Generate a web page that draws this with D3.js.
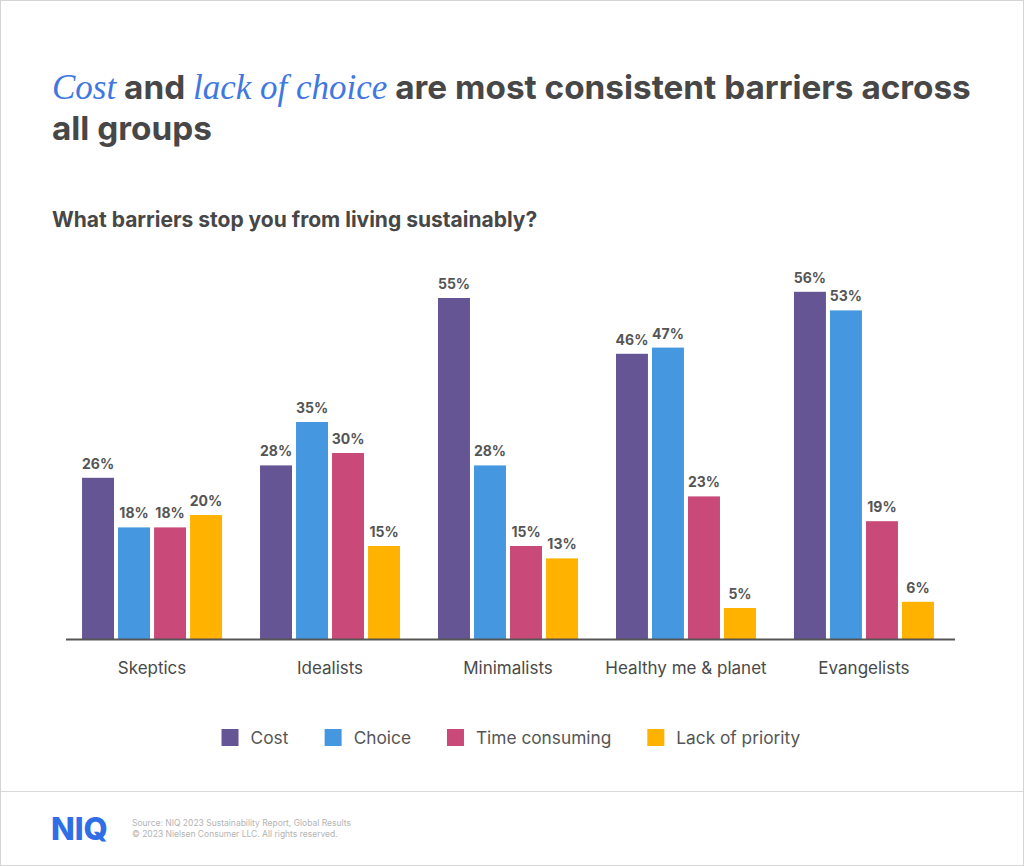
<!DOCTYPE html>
<html lang="en">
<head>
<meta charset="UTF-8">
<title>Barriers to living sustainably</title>
<script src="https://cdn.jsdelivr.net/npm/d3@7/dist/d3.min.js"></script>
<style>
    body { margin: 0; background: #fff; }
    svg { display: block; }
    .ttl { font-family: Inter, sans-serif; font-weight: 700; fill: #474747; }
    .hl { font-family: "Liberation Serif", serif; font-style: italic; font-weight: 400; fill: #3f78e0; }
</style>
</head>
<body>
<div id="chart"></div>
<script>
// data
const groups = ["Skeptics", "Idealists", "Minimalists", "Healthy me & planet", "Evangelists"];
const series = ["Cost", "Choice", "Time consuming", "Lack of priority"];
const cost     = [26, 28, 55, 46, 56];
const choice   = [18, 35, 28, 47, 53];
const timeCons = [18, 30, 15, 23, 19];
const priority = [20, 15, 13, 5, 6];
const colors = ["#665594", "#4598e0", "#c94a78", "#ffb300"];

const values = [cost, choice, timeCons, priority];
const rows = groups.map((g, i) => ({
    group: g,
    vals: series.map((s, j) => ({ key: s, value: values[j][i] }))
}));

const W = 1024, H = 866;
const svg = d3.select("#chart").append("svg")
    .attr("width", W)
    .attr("height", H);

// outer frame
svg.append("rect")
    .attr("x", 0.5).attr("y", 0.5)
    .attr("width", W - 1).attr("height", H - 1)
    .attr("fill", "#fff").attr("stroke", "#d4d4d4");

// title
const t1 = svg.append("text").attr("class", "ttl").attr("x", 52).attr("y", 99).style("font-size", "33.3px");
t1.append("tspan").attr("class", "hl").style("font-size", "35px").text("Cost");
t1.append("tspan").text(" and ");
t1.append("tspan").attr("class", "hl").style("font-size", "35px").text("lack of choice");
t1.append("tspan").text(" are most consistent barriers across");
svg.append("text").attr("class", "ttl").attr("x", 52).attr("y", 140)
    .style("font-size", "33.3px").text("all groups");

svg.append("text").attr("class", "ttl").attr("x", 52).attr("y", 227)
    .style("font-size", "21px").text("What barriers stop you from living sustainably?");

// scales
const baseY = 639;
const x0 = d3.scaleBand()
    .domain(groups)
    .range([63, 953])
    .paddingInner(0.2135)
    .paddingOuter(0.107);

const x1 = d3.scaleBand()
    .domain(series)
    .range([0, x0.bandwidth()])
    .paddingInner(0.112);

const y = d3.scaleLinear()
    .domain([0, 60])
    .range([baseY, baseY - 372]);

const color = d3.scaleOrdinal().domain(series).range(colors);

const g = svg.append("g")
    .selectAll("g")
    .data(rows)
    .join("g")
    .attr("transform", d => `translate(${x0(d.group)},0)`);

g.selectAll("rect")
    .data(d => d.vals)
    .join("rect")
    .attr("x", d => x1(d.key))
    .attr("y", d => y(d.value))
    .attr("width", x1.bandwidth())
    .attr("height", d => y(0) - y(d.value))
    .attr("fill", d => color(d.key));

g.selectAll("text.lbl")
    .data(d => d.vals)
    .join("text")
    .attr("class", "lbl")
    .attr("x", d => x1(d.key) + x1.bandwidth() / 2)
    .attr("y", d => y(d.value) - 9)
    .attr("text-anchor", "middle")
    .style("font-family", "Inter, sans-serif")
    .style("font-weight", 700)
    .style("font-size", "14px")
    .style("fill", "#555")
    .text(d => d.value + "%");

// x axis
const xAxis = svg.append("g")
    .attr("transform", `translate(0,${baseY})`)
    .call(d3.axisBottom(x0).tickSize(0).tickPadding(23));
xAxis.select(".domain")
    .attr("d", `M66,0.5H955`)
    .attr("stroke", "#555")
    .attr("stroke-width", 2);
xAxis.selectAll("text")
    .style("font-family", "Inter, sans-serif")
    .style("font-size", "17px")
    .style("fill", "#4a4a4a");

// legend
const legend = svg.append("g");
const gap = 36;
let lx = 0;
const items = legend.selectAll("g")
    .data(series)
    .join("g");
items.append("rect")
    .attr("y", -8.5)
    .attr("width", 17).attr("height", 17)
    .attr("fill", d => color(d));
items.append("text")
    .attr("x", 29)
    .attr("y", 6.5)
    .style("font-family", "Inter, sans-serif")
    .style("font-size", "17.3px")
    .style("fill", "#555")
    .text(d => d);
items.each(function () {
    d3.select(this).attr("transform", `translate(${lx},0)`);
    lx += this.getBBox().width + gap;
});
const legW = lx - gap;
legend.attr("transform", `translate(${511 - legW / 2},737.5)`);

// footer
svg.append("line")
    .attr("x1", 1).attr("x2", W - 1)
    .attr("y1", 791.5).attr("y2", 791.5)
    .attr("stroke", "#d9d9d9");

svg.append("text")
    .attr("x", 51).attr("y", 840)
    .style("font-family", "Inter, sans-serif")
    .style("font-weight", 800)
    .style("font-size", "31px")
    .style("fill", "#2f6ee6")
    .text("NIQ");

const src = svg.append("text")
    .style("font-family", "Inter, sans-serif")
    .style("font-size", "8.5px")
    .style("fill", "#b4b4b4");
src.append("tspan").attr("x", 132).attr("y", 826).text("Source: NIQ 2023 Sustainability Report, Global Results");
src.append("tspan").attr("x", 132).attr("y", 837).text("© 2023 Nielsen Consumer LLC. All rights reserved.");
</script>
</body>
</html>
